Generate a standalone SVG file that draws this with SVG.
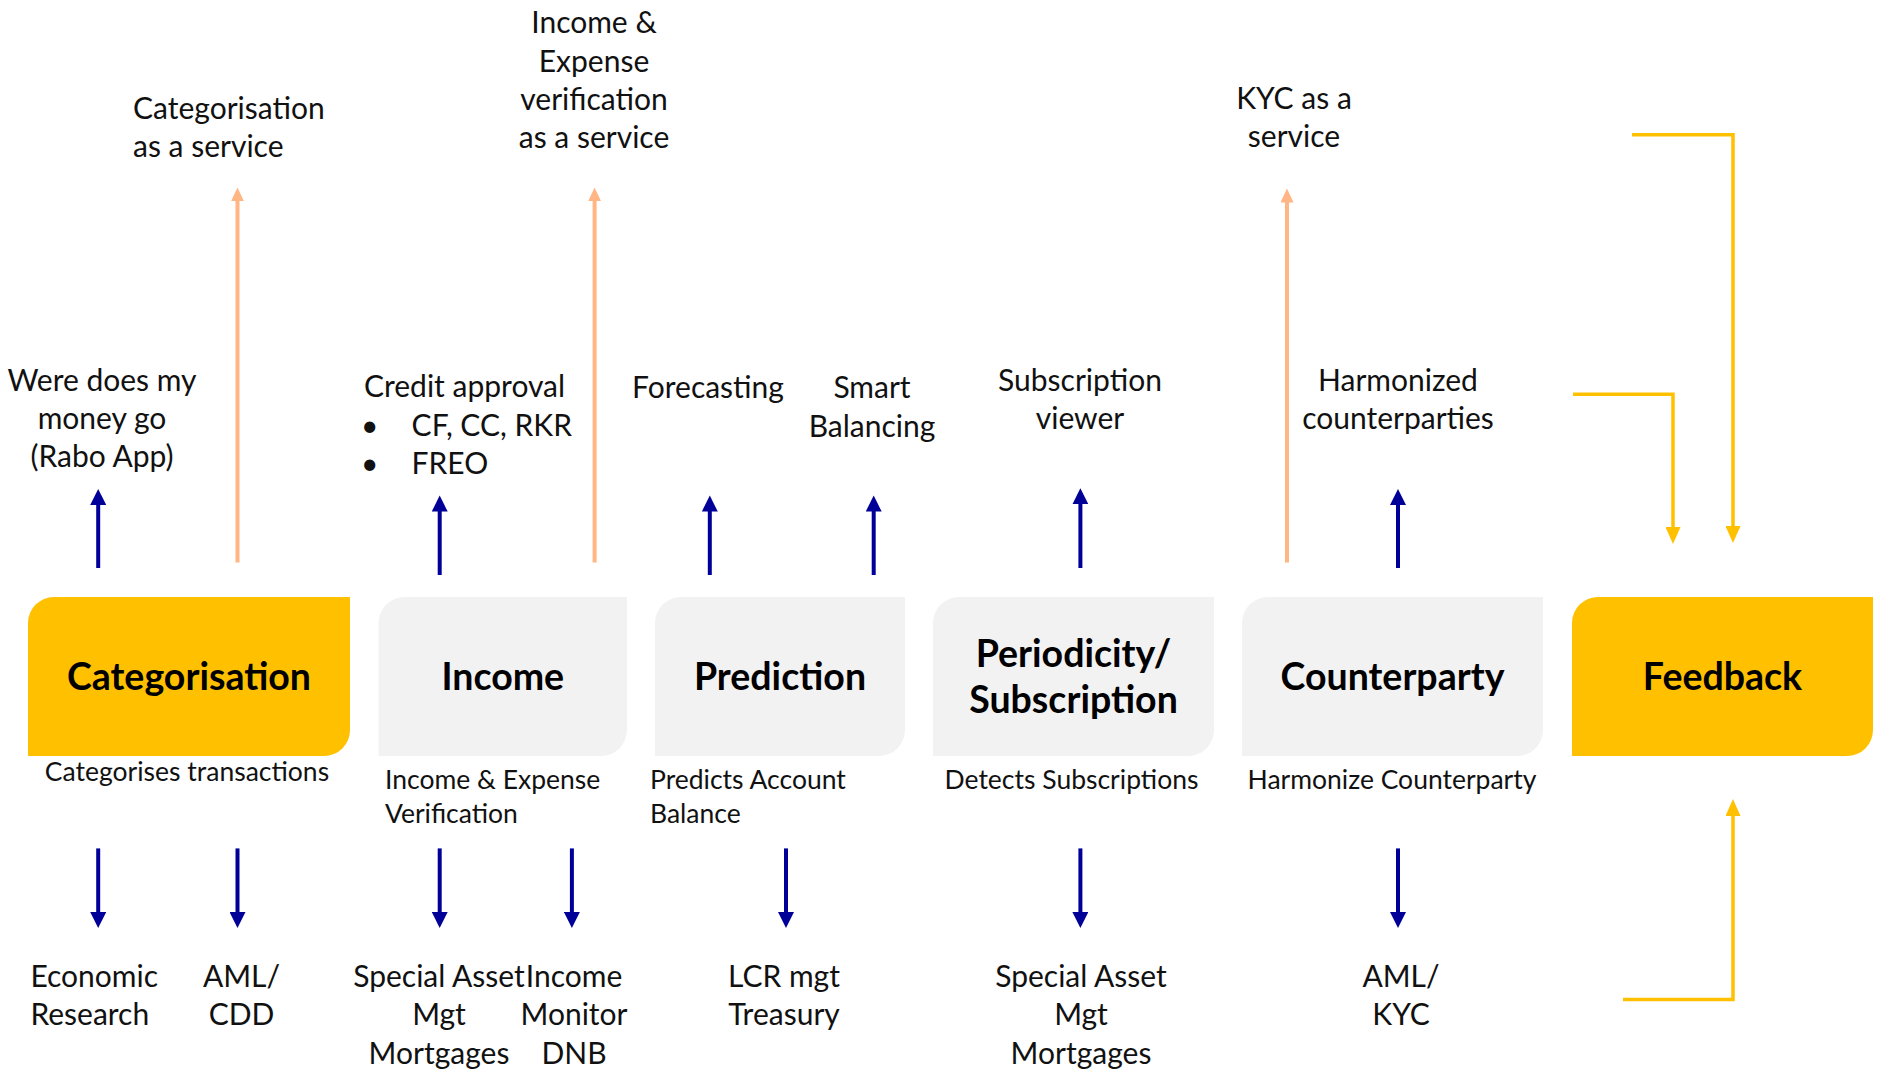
<svg xmlns="http://www.w3.org/2000/svg" width="1882" height="1081" viewBox="0 0 1882 1081">
<style>
.lbl{font-family:Lato,"Open Sans","Liberation Sans",sans-serif;font-size:30px;fill:#111;}
.sub{font-family:Lato,"Open Sans","Liberation Sans",sans-serif;font-size:26.5px;fill:#111;}
.ttl{font-family:Lato,"Open Sans","Liberation Sans",sans-serif;font-size:37.5px;font-weight:bold;fill:#000;text-anchor:middle;}
.mid{text-anchor:middle;}
.yel{fill:#FFC000;}
.gry{fill:#F2F2F2;}
.navy{stroke:#000099;stroke-width:4;fill:none;marker-end:url(#hNavy);}
.org{stroke:#FFB584;stroke-width:4;fill:none;marker-end:url(#hOrg);}
.ylw{stroke:#FFC000;stroke-width:3.5;fill:none;marker-end:url(#hYel);}
</style>
<defs>
<marker id="hNavy" markerUnits="userSpaceOnUse" markerWidth="17" markerHeight="16" refX="1" refY="8" orient="auto"><path d="M0,0 L16,8 L0,16 z" fill="#000099"/></marker>
<marker id="hOrg" markerUnits="userSpaceOnUse" markerWidth="15" markerHeight="13" refX="1" refY="6.5" orient="auto"><path d="M0,0 L14,6.5 L0,13 z" fill="#FFB584"/></marker>
<marker id="hYel" markerUnits="userSpaceOnUse" markerWidth="18" markerHeight="15" refX="1" refY="7.5" orient="auto"><path d="M0,0 L17,7.5 L0,15 z" fill="#FFC000"/></marker>
</defs>
<rect width="1882" height="1081" fill="#fff"/>

<g id="connectors">
<path class="navy" d="M98.2,568 V504"/>
<path class="navy" d="M439.7,575 V510.6"/>
<path class="navy" d="M709.8,575 V510.6"/>
<path class="navy" d="M873.7,575 V510.6"/>
<path class="navy" d="M1080.4,568 V503.3"/>
<path class="navy" d="M1398,568 V504"/>
<path class="org" d="M237.5,562.6 V200.4"/>
<path class="org" d="M594.6,562.6 V200.4"/>
<path class="org" d="M1287,562.6 V201.5"/>
<path class="navy" d="M98.2,848.4 V913"/>
<path class="navy" d="M237.5,848.4 V913"/>
<path class="navy" d="M439.7,848.4 V913"/>
<path class="navy" d="M571.9,848.4 V913"/>
<path class="navy" d="M786,848.4 V913"/>
<path class="navy" d="M1080.4,848.4 V913"/>
<path class="navy" d="M1398,848.4 V913"/>
<path class="ylw" d="M1632,134.7 H1733 V527"/>
<path class="ylw" d="M1573,394.2 H1673 V528"/>
<path class="ylw" d="M1623,999.5 H1733 V815"/>
</g>

<g id="node-categorisation">
<path class="yel" d="M54,597 H350 V730 A26,26 0 0 1 324,756 H28 V623 A26,26 0 0 1 54,597 Z"/>
<text class="ttl" x="189" y="690">Categorisation</text>
<text class="sub mid" x="187" y="781">Categorises transactions</text>
</g>
<g id="node-income">
<path class="gry" d="M404.6,597 H627 V730 A26,26 0 0 1 601,756 H378.6 V623 A26,26 0 0 1 404.6,597 Z"/>
<text class="ttl" x="502.8" y="690">Income</text>
<text class="sub" x="385" y="789">Income &amp; Expense</text>
<text class="sub" x="385" y="822.5">Verification</text>
</g>
<g id="node-prediction">
<path class="gry" d="M681,597 H905 V730 A26,26 0 0 1 879,756 H655 V623 A26,26 0 0 1 681,597 Z"/>
<text class="ttl" x="780" y="690">Prediction</text>
<text class="sub" x="650" y="789">Predicts Account</text>
<text class="sub" x="650" y="822.5">Balance</text>
</g>
<g id="node-periodicity">
<path class="gry" d="M959,597 H1214 V730 A26,26 0 0 1 1188,756 H933 V623 A26,26 0 0 1 959,597 Z"/>
<text class="ttl" x="1073.5" y="667">Periodicity/</text>
<text class="ttl" x="1073.5" y="713">Subscription</text>
<text class="sub mid" x="1071.5" y="789">Detects Subscriptions</text>
</g>
<g id="node-counterparty">
<path class="gry" d="M1268,597 H1543 V730 A26,26 0 0 1 1517,756 H1242 V623 A26,26 0 0 1 1268,597 Z"/>
<text class="ttl" x="1392.5" y="690">Counterparty</text>
<text class="sub mid" x="1392" y="789">Harmonize Counterparty</text>
</g>
<g id="node-feedback">
<path class="yel" d="M1598,597 H1873 V730 A26,26 0 0 1 1847,756 H1572 V623 A26,26 0 0 1 1598,597 Z"/>
<text class="ttl" x="1722.5" y="690">Feedback</text>
</g>

<g id="label-cat-service">
<text class="lbl" x="133" y="118.5">Categorisation</text>
<text class="lbl" x="133" y="157">as a service</text>
</g>
<g id="label-income-service">
<text class="lbl mid" x="594" y="33">Income &amp;</text>
<text class="lbl mid" x="594" y="71.5">Expense</text>
<text class="lbl mid" x="594" y="110">verification</text>
<text class="lbl mid" x="594" y="148">as a service</text>
</g>
<g id="label-kyc-service">
<text class="lbl mid" x="1294" y="109">KYC as a</text>
<text class="lbl mid" x="1294" y="147">service</text>
</g>
<g id="label-money">
<text class="lbl mid" x="102" y="390.5">Were does my</text>
<text class="lbl mid" x="102" y="429">money go</text>
<text class="lbl mid" x="102" y="467">(Rabo App)</text>
</g>
<g id="label-credit">
<text class="lbl" x="364" y="397">Credit approval</text>
<text class="lbl" x="361" y="435.5">•</text>
<text class="lbl" x="411.6" y="435.5">CF, CC, RKR</text>
<text class="lbl" x="361" y="473.5">•</text>
<text class="lbl" x="411.6" y="473.5">FREO</text>
</g>
<g id="label-forecasting">
<text class="lbl mid" x="708" y="398">Forecasting</text>
</g>
<g id="label-smart">
<text class="lbl mid" x="872" y="398">Smart</text>
<text class="lbl mid" x="872" y="436.5">Balancing</text>
</g>
<g id="label-subviewer">
<text class="lbl mid" x="1080" y="390.5">Subscription</text>
<text class="lbl mid" x="1080" y="429">viewer</text>
</g>
<g id="label-harmonized">
<text class="lbl mid" x="1398" y="390.5">Harmonized</text>
<text class="lbl mid" x="1398" y="429">counterparties</text>
</g>

<g id="label-economic">
<text class="lbl" x="30.4" y="987">Economic</text>
<text class="lbl" x="30.4" y="1025">Research</text>
</g>
<g id="label-aml-cdd">
<text class="lbl mid" x="241.5" y="987">AML/</text>
<text class="lbl mid" x="241.5" y="1025">CDD</text>
</g>
<g id="label-sam-1">
<text class="lbl mid" x="439" y="987">Special Asset</text>
<text class="lbl mid" x="439" y="1025">Mgt</text>
<text class="lbl mid" x="439" y="1064">Mortgages</text>
</g>
<g id="label-income-monitor">
<text class="lbl mid" x="574" y="987">Income</text>
<text class="lbl mid" x="574" y="1025">Monitor</text>
<text class="lbl mid" x="574" y="1064">DNB</text>
</g>
<g id="label-lcr">
<text class="lbl mid" x="784" y="987">LCR mgt</text>
<text class="lbl mid" x="784" y="1025">Treasury</text>
</g>
<g id="label-sam-2">
<text class="lbl mid" x="1081" y="987">Special Asset</text>
<text class="lbl mid" x="1081" y="1025">Mgt</text>
<text class="lbl mid" x="1081" y="1064">Mortgages</text>
</g>
<g id="label-aml-kyc">
<text class="lbl mid" x="1401" y="987">AML/</text>
<text class="lbl mid" x="1401" y="1025">KYC</text>
</g>
</svg>
